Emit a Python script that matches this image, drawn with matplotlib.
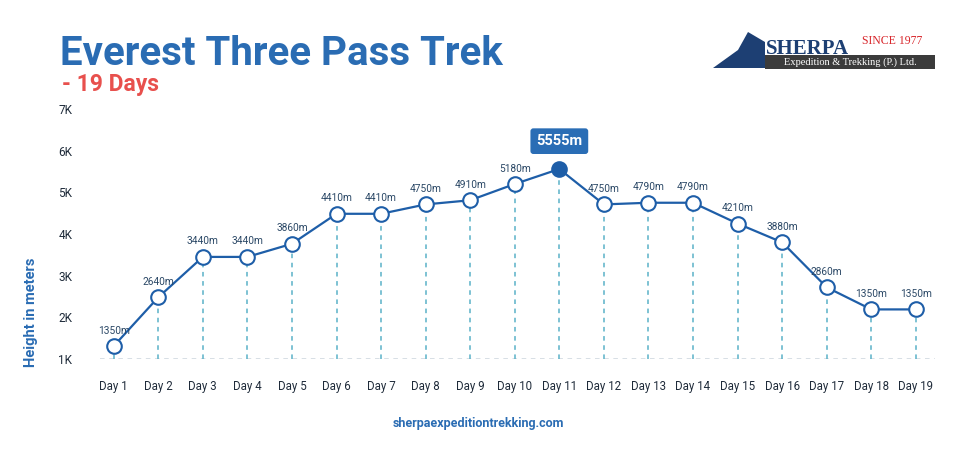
import matplotlib

matplotlib.use("Agg")
import matplotlib.pyplot as plt
from matplotlib.patches import Rectangle, Polygon

# data: plotted heights and the printed labels
days = [f"Day {i}" for i in range(1, 20)]
heights = [1310, 2480, 3450, 3450, 3765, 4485, 4485, 4710, 4810, 5200,
           5560, 4710, 4750, 4750, 4250, 3800, 2720, 2190, 2190]
labels = ["1350m", "2640m", "3440m", "3440m", "3860m", "4410m", "4410m",
          "4750m", "4910m", "5180m", "5555m", "4750m", "4790m", "4790m",
          "4210m", "3880m", "2860m", "1350m", "1350m"]
peak_idx = 10
yticks = [1000, 2000, 3000, 4000, 5000, 6000, 7000]
ytick_labels = ["1K", "2K", "3K", "4K", "5K", "6K", "7K"]

BLUE = "#1e5ea8"
TITLE_BLUE = "#2a6cb3"
TEAL = "#5ab1c8"
RED = "#e8504d"
DARK = "#1f2b3a"

plt.rcParams["font.family"] = ["Roboto", "DejaVu Sans"]

W, H = 966, 453
fig = plt.figure(figsize=(W / 100, H / 100), dpi=100)
fig.patch.set_facecolor("white")

# axes box in pixels: x 100..935, y 109..359
ax = fig.add_axes([100 / W, (H - 359) / H, 835 / W, 250 / H])
x = list(range(1, 20))
ax.set_xlim(0.693, 19.43)
ax.set_ylim(1000, 7000)
for s in ax.spines.values():
    s.set_visible(False)

ax.axhline(1000, color="#cdd6de", lw=1.1, ls=(0, (3, 3)), zorder=1)
for xi, h in zip(x, heights):
    ax.plot([xi, xi], [1000, h], color=TEAL, lw=1.1, ls=(0, (3, 3)), zorder=1)
ax.plot(x, heights, color=BLUE, lw=1.6, zorder=2)
for i, (xi, h) in enumerate(zip(x, heights)):
    face = BLUE if i == peak_idx else "white"
    ax.plot(xi, h, "o", ms=10.5, mfc=face, mec=BLUE, mew=1.5, zorder=3, clip_on=False)
    if i != peak_idx:
        ax.annotate(labels[i], (xi, h), xytext=(0, 7.5), textcoords="offset points",
                    ha="center", va="bottom", fontsize=7.3, color="#2b4866")

# peak callout
ax.annotate(labels[peak_idx], (x[peak_idx], heights[peak_idx]), xytext=(0, 15),
            textcoords="offset points", ha="center", va="bottom", fontsize=10.5,
            fontweight="bold", color="white",
            bbox=dict(boxstyle="round,pad=0.4,rounding_size=0.2", fc="#2a6db5", ec="none"))

ax.set_xticks(x)
ax.set_xticklabels(days, fontsize=8.3, color=DARK)
ax.set_yticks(yticks)
ax.set_yticklabels(ytick_labels, fontsize=8.5, color=DARK)
ax.tick_params(axis="x", length=0, pad=15)
ax.tick_params(axis="y", length=0, pad=20)

fig.text(31 / W, 1 - 312 / H, "Height in meters", rotation=90, ha="center", va="center",
         fontsize=10.5, fontweight="bold", color=TITLE_BLUE)

# titles
fig.text(60 / W, 1 - 65 / H, "Everest Three Pass Trek", ha="left", va="baseline",
         fontsize=29, fontweight="bold", color=TITLE_BLUE)
fig.text(62 / W, 1 - 91 / H, "- 19 Days", ha="left", va="baseline",
         fontsize=16.5, fontweight="bold", color=RED)

# footer
fig.text(478 / W, 1 - 424 / H, "sherpaexpeditiontrekking.com", ha="center", va="center",
         fontsize=9, fontweight="bold", color=TITLE_BLUE)

# logo
serif = ["Liberation Serif", "DejaVu Serif"]
fig.patches.append(Polygon([(713 / W, 1 - 68 / H), (738 / W, 1 - 50 / H), (748 / W, 1 - 32 / H),
                            (765 / W, 1 - 42 / H), (765 / W, 1 - 68 / H)],
                           closed=True, transform=fig.transFigure, fc="#1d3f73", ec="none"))
fig.patches.append(Rectangle((765 / W, 1 - 69 / H), 170 / W, 14 / H,
                             transform=fig.transFigure, fc="#3b3b3b", ec="none"))
fig.text(766 / W, 1 - 54 / H, "SHERPA", ha="left", va="baseline", fontsize=15,
         fontweight="bold", color="#1d3f73", family=serif)
fig.text(862 / W, 1 - 44 / H, "SINCE 1977", ha="left", va="baseline", fontsize=8.5,
         color="#d8262b", family=serif)
fig.text(850 / W, 1 - 62 / H, "Expedition & Trekking (P.) Ltd.", ha="center", va="center",
         fontsize=7.5, color="white", family=serif)

fig.savefig("out.png", dpi=100)
